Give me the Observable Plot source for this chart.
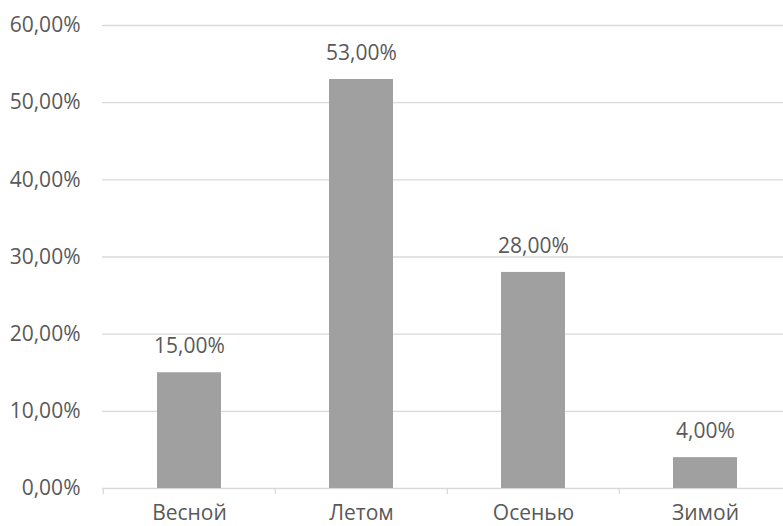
<!DOCTYPE html>
<html>
<head>
<meta charset="utf-8">
<script src="https://cdn.jsdelivr.net/npm/d3@7"></script>
<script src="https://cdn.jsdelivr.net/npm/@observablehq/plot@0.6"></script>
<style>
  html, body { margin: 0; padding: 0; background: #fff; overflow: hidden; width: 783px; height: 526px; }
  #chart { width: 783px; height: 526px; overflow: hidden; position: relative; }
  #chart svg { display: block; max-width: none; }
</style>
</head>
<body>
<div id="chart"></div>
<script>
const seasons = ["Весной", "Летом", "Осенью", "Зимой"];
const shares = [0.15, 0.53, 0.28, 0.04];
const yTicks = [0, 0.1, 0.2, 0.3, 0.4, 0.5, 0.6];

const data = seasons.map((s, i) => ({season: s, share: shares[i]}));

const locale = d3.formatLocale({decimal: ",", thousands: " ", grouping: [3], currency: ["", " ₽"]});
const pct = locale.format(".2%");

const W = 800, H = 526, mL = 102, mR = 9, mT = 25, mB = 38;
const step = (W - mL - mR) / seasons.length;
const textColor = "#595959";
const gridColor = "#d9d9d9";
const fs = 21;

const chart = Plot.plot({
  width: W,
  height: H,
  marginLeft: mL,
  marginRight: mR,
  marginTop: mT,
  marginBottom: mB,
  style: {fontFamily: "'Open Sans', sans-serif", fontSize: fs + "px", color: textColor, background: "#fff", maxWidth: "none"},
  x: {domain: seasons, paddingInner: 0.628, paddingOuter: 0.314, label: null},
  y: {domain: [0, 0.6], label: null},
  marks: [
    Plot.gridY(yTicks, {stroke: gridColor, strokeOpacity: 1, strokeWidth: 1.3}),
    Plot.axisY(yTicks, {tickSize: 0, tickPadding: 22, tickFormat: pct, fill: textColor, fontSize: fs}),
    Plot.axisX({tickSize: 0, tickPadding: 17, fill: textColor, fontSize: fs}),
    Plot.ruleX(seasons, {x: d => d, y1: 0, y2: 0, insetBottom: -6, dx: -step / 2, stroke: gridColor, strokeWidth: 1.3}),
    Plot.ruleX(seasons.slice(-1), {x: d => d, y1: 0, y2: 0, insetBottom: -6, dx: step / 2, stroke: gridColor, strokeWidth: 1.3}),
    Plot.barY(data, {x: "season", y: "share", fill: "#a0a0a0"}),
    Plot.text(data, {x: "season", y: "share", text: d => pct(d.share), dy: -26, lineAnchor: "middle", fill: textColor, fontSize: fs})
  ]
});
document.getElementById("chart").appendChild(chart);
</script>
</body>
</html>
